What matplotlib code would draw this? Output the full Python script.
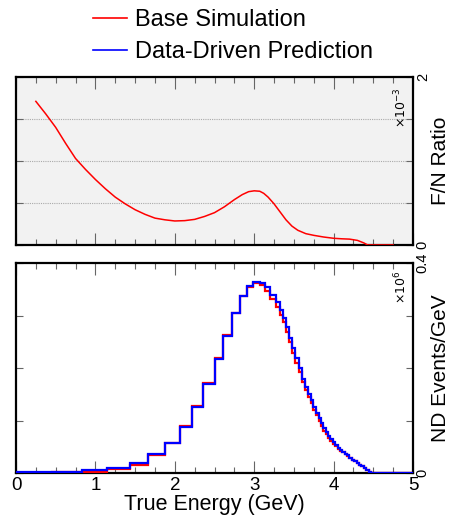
import numpy as np
import matplotlib
matplotlib.use("Agg")
import matplotlib.pyplot as plt
from matplotlib.lines import Line2D
from matplotlib.ticker import FixedLocator, NullFormatter

plt.rcParams["font.family"] = ["Liberation Sans", "DejaVu Sans"]

# top panel: far/near ratio (units of 1e-3)
ratio_e = [0.25, 0.375, 0.50, 0.625, 0.75, 0.875, 1.00, 1.125, 1.25, 1.375, 1.50, 1.625,
           1.75, 1.875, 2.00, 2.125, 2.25, 2.375, 2.50, 2.625, 2.75, 2.85, 2.93, 3.00,
           3.07, 3.12, 3.175, 3.25, 3.325, 3.40, 3.475, 3.55, 3.65, 3.75, 3.875, 4.00,
           4.10, 4.20, 4.30, 4.38, 4.43, 4.75]
ratio_v = [1.71, 1.56, 1.40, 1.21, 1.03, 0.90, 0.78, 0.67, 0.57, 0.49, 0.42, 0.365,
           0.32, 0.30, 0.286, 0.29, 0.305, 0.34, 0.385, 0.455, 0.54, 0.60, 0.635, 0.645,
           0.64, 0.615, 0.57, 0.49, 0.395, 0.30, 0.225, 0.175, 0.135, 0.115, 0.095, 0.08,
           0.074, 0.07, 0.055, 0.025, 0.0, 0.0]

# bottom panel: ND events/GeV (units of 1e6), variable bins
edges = [0.0, 0.45, 0.83, 1.15, 1.43, 1.66, 1.88, 2.06, 2.22, 2.36, 2.50, 2.61, 2.72,
         2.82, 2.91, 2.99, 3.07, 3.14, 3.20, 3.27, 3.32, 3.36, 3.40, 3.44, 3.48, 3.52,
         3.56, 3.60, 3.64, 3.675, 3.71, 3.745, 3.78, 3.81, 3.84, 3.87, 3.90, 3.93, 3.96,
         3.99, 4.02, 4.05, 4.08, 4.11, 4.14, 4.17, 4.20, 4.23, 4.26, 4.29, 4.32, 4.35,
         4.38, 4.41, 4.44, 4.47, 5.0]
base_sim = [0.001, 0.002, 0.003, 0.008, 0.016, 0.034, 0.058, 0.090, 0.128, 0.171, 0.219,
            0.263, 0.305, 0.337, 0.355, 0.362, 0.359, 0.347, 0.332, 0.317, 0.301, 0.287,
            0.269, 0.249, 0.229, 0.210, 0.192, 0.173, 0.158, 0.145, 0.133, 0.121, 0.110,
            0.100, 0.090, 0.081, 0.074, 0.067, 0.061, 0.056, 0.052, 0.047, 0.043, 0.040,
            0.036, 0.033, 0.029, 0.026, 0.023, 0.020, 0.016, 0.013, 0.010, 0.006, 0.003, 0.0]
data_driven = [0.002, 0.003, 0.006, 0.011, 0.019, 0.036, 0.057, 0.089, 0.127, 0.170, 0.218,
               0.262, 0.305, 0.338, 0.357, 0.364, 0.362, 0.354, 0.340, 0.326, 0.310, 0.296,
               0.278, 0.258, 0.238, 0.219, 0.200, 0.180, 0.165, 0.151, 0.139, 0.127, 0.115,
               0.105, 0.095, 0.086, 0.078, 0.071, 0.065, 0.059, 0.054, 0.049, 0.045, 0.041,
               0.037, 0.034, 0.030, 0.026, 0.023, 0.020, 0.016, 0.013, 0.010, 0.006, 0.003, 0.0]

RED = "#ff0000"
BLUE = "#0000ff"
W, H = 449, 517


def style_axes(ax, ymax, yminor, ylabels, ylabel):
    ax.set_xlim(0, 5)
    ax.set_ylim(0, ymax)
    for s in ax.spines.values():
        s.set_linewidth(1.6)
    ax.xaxis.set_major_locator(FixedLocator([0, 1, 2, 3, 4, 5]))
    ax.xaxis.set_minor_locator(FixedLocator(np.arange(0, 5.01, 0.25)))
    ax.yaxis.set_major_locator(FixedLocator([0, ymax]))
    ax.yaxis.set_minor_locator(FixedLocator(yminor))
    ax.yaxis.tick_right()
    ax.yaxis.set_label_position("right")
    ax.set_yticklabels(ylabels)
    ax.tick_params(axis="x", which="both", direction="in", top=True, bottom=True,
                   color="#666666", width=0.8)
    ax.tick_params(axis="x", which="major", length=8.5, labelsize=13.5, pad=3)
    ax.tick_params(axis="x", which="minor", length=4.3)
    ax.tick_params(axis="y", which="both", direction="in", left=True, right=True,
                   color="#666666", width=0.8, length=5)
    ax.tick_params(axis="y", which="major", labelsize=10.5, pad=2, labelrotation=90)
    for lbl in ax.get_yticklabels():
        lbl.set_va("center")
    ax.set_ylabel(ylabel, fontsize=15, labelpad=1, rotation=90)


fig = plt.figure(figsize=(W / 100, H / 100), dpi=100)
ax1 = fig.add_axes([16 / W, 1 - 245 / H, 397 / W, 168 / H])
ax2 = fig.add_axes([16 / W, 1 - 473.3 / H, 397 / W, 210.3 / H])

# top panel
ax1.set_facecolor("#f2f2f2")
ax1.plot(ratio_e, ratio_v, color=RED, lw=1.1, zorder=3)
style_axes(ax1, 2, [0.5, 1.0, 1.5], ["0", "2"], "F/N Ratio")
ax1.grid(which="minor", axis="y", color="#aaaaaa", linestyle=(0, (1, 1)), linewidth=0.8)
ax1.xaxis.set_major_formatter(NullFormatter())
ax1.text(0.97, 0.94, r"$\times10^{-3}$", transform=ax1.transAxes, rotation=90,
         ha="center", va="top", fontsize=9)

# bottom panel
ax2.stairs(base_sim, edges, color=RED, lw=1.6, zorder=3)
ax2.stairs(data_driven, edges, color=BLUE, lw=1.6, zorder=4)
style_axes(ax2, 0.4, [0.1, 0.2, 0.3], ["0", "0.4"], "ND Events/GeV")
ax2.set_xticklabels(["0", "1", "2", "3", "4", "5"])
ax2.set_xlabel("True Energy (GeV)", fontsize=15.5, labelpad=0)
ax2.text(0.97, 0.965, r"$\times10^{6}$", transform=ax2.transAxes, rotation=90,
         ha="center", va="top", fontsize=9)

handles = [Line2D([], [], color=RED, lw=1.2), Line2D([], [], color=BLUE, lw=1.2)]
fig.legend(handles, ["Base Simulation", "Data-Driven Prediction"], loc="upper left",
           bbox_to_anchor=(93 / W, 1 - 9 / H), frameon=False, fontsize=17,
           handlelength=1.45, handletextpad=0.34, labelspacing=0.42, borderpad=0,
           borderaxespad=0)

fig.savefig("out.png", dpi=100)
